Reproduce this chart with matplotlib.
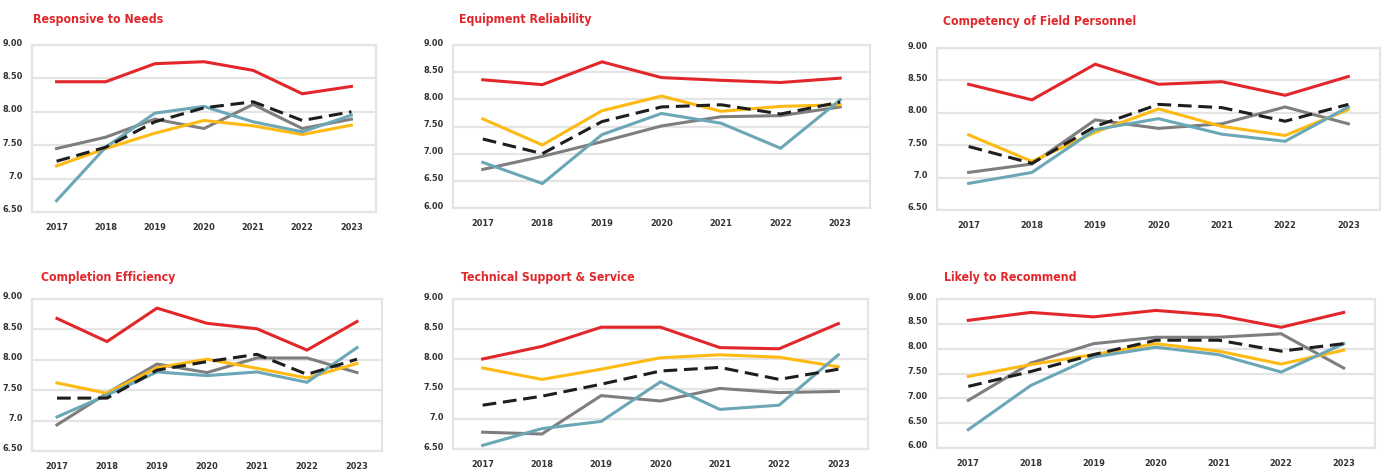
import matplotlib

matplotlib.use("Agg")
import matplotlib.pyplot as plt
import matplotlib.transforms as mtransforms
from matplotlib import font_manager

# years on the x axis, shared by all six panels
YEARS = ["2017", "2018", "2019", "2020", "2021", "2022", "2023"]

TITLES = [
    "Responsive to Needs",
    "Equipment Reliability",
    "Competency of Field Personnel",
    "Completion Efficiency",
    "Technical Support & Service",
    "Likely to Recommend",
]

# one list per panel
RED = [
    [8.45, 8.45, 8.72, 8.75, 8.62, 8.27, 8.38],
    [8.36, 8.27, 8.69, 8.40, 8.35, 8.31, 8.39],
    [8.44, 8.20, 8.75, 8.44, 8.48, 8.27, 8.56],
    [8.68, 8.30, 8.85, 8.60, 8.51, 8.16, 8.63],
    [8.00, 8.21, 8.53, 8.53, 8.19, 8.17, 8.59],
    [8.57, 8.73, 8.64, 8.77, 8.67, 8.43, 8.73],
]
YELLOW = [
    [7.19, 7.45, 7.68, 7.87, 7.79, 7.66, 7.80],
    [7.64, 7.16, 7.79, 8.06, 7.78, 7.87, 7.90],
    [7.66, 7.25, 7.70, 8.06, 7.79, 7.65, 8.05],
    [7.62, 7.45, 7.87, 8.01, 7.86, 7.70, 7.94],
    [7.85, 7.66, 7.83, 8.02, 8.07, 8.03, 7.87],
    [7.44, 7.68, 7.88, 8.10, 7.95, 7.69, 7.97],
]
TEAL = [
    [6.67, 7.47, 7.98, 8.08, 7.85, 7.70, 7.95],
    [6.84, 6.45, 7.35, 7.74, 7.56, 7.10, 7.99],
    [6.91, 7.08, 7.74, 7.91, 7.67, 7.56, 8.09],
    [7.06, 7.42, 7.80, 7.74, 7.80, 7.63, 8.20],
    [6.56, 6.84, 6.96, 7.62, 7.16, 7.23, 8.07],
    [6.37, 7.26, 7.83, 8.03, 7.88, 7.53, 8.10],
]
GRAY = [
    [7.45, 7.62, 7.89, 7.75, 8.11, 7.75, 7.89],
    [6.71, 6.95, 7.22, 7.51, 7.68, 7.70, 7.86],
    [7.08, 7.21, 7.89, 7.76, 7.83, 8.09, 7.83],
    [6.93, 7.45, 7.93, 7.79, 8.03, 8.03, 7.79],
    [6.78, 6.75, 7.39, 7.30, 7.51, 7.44, 7.46],
    [6.96, 7.71, 8.10, 8.23, 8.23, 8.30, 7.61],
]
DASHED = [
    [7.26, 7.47, 7.85, 8.06, 8.15, 7.87, 8.00],
    [7.27, 7.00, 7.59, 7.86, 7.90, 7.73, 7.95],
    [7.48, 7.22, 7.79, 8.13, 8.08, 7.87, 8.13],
    [7.37, 7.37, 7.83, 7.97, 8.09, 7.76, 8.01],
    [7.23, 7.38, 7.58, 7.80, 7.86, 7.66, 7.83],
    [7.24, 7.54, 7.88, 8.17, 8.17, 7.95, 8.10],
]

YTICKS_A = [6.5, 7.0, 7.5, 8.0, 8.5, 9.0]
YLABELS_A = ["6.50", "7.0", "7.50", "8.00", "8.50", "9.00"]
YTICKS_B = [6.0, 6.5, 7.0, 7.5, 8.0, 8.5, 9.0]
YLABELS_B = ["6.00", "6.50", "7.00", "7.50", "8.00", "8.50", "9.00"]

# pixel boxes (left, top, right, bottom) of each plot area and title anchors
W, H = 1381, 475
BOXES = [
    (32, 45, 376, 212),
    (453, 45, 870, 208),
    (937, 48, 1380, 210),
    (32, 299, 382, 451),
    (453, 299, 868, 449),
    (937, 299, 1375, 448),
]
TITLE_XY = [(33, 20), (459, 20), (943, 22), (41, 278), (461, 278), (944, 278)]

# prefer a condensed bold face, like the original's headline font
fonts = font_manager.fontManager.ttflist
names = {f.name for f in fonts}
FONT, STRETCH, NARROW = "Roboto", "normal", False
if "Liberation Sans Narrow" in names:
    FONT, STRETCH, NARROW = "Liberation Sans Narrow", "normal", True
elif "DejaVu Sans Condensed" in names:
    FONT, STRETCH, NARROW = "DejaVu Sans Condensed", "normal", True
elif any(f.name == "DejaVu Sans" and f.stretch == "condensed" for f in fonts):
    FONT, STRETCH, NARROW = "DejaVu Sans", "condensed", True
elif "Roboto" not in names:
    FONT = "DejaVu Sans"

C_RED = "#E2272B"
C_YEL = "#FDBA12"
C_TEAL = "#6BA7B6"
C_GRAY = "#7E7E7E"
C_BLK = "#1E1E1E"
C_GRID = "#E4E4E4"
C_TXT = "#333333"

fig = plt.figure(figsize=(W / 100, H / 100), dpi=100)
tick_fs = 6.6 if NARROW else 6.2
title_fs = 8.8 if NARROW else 9.8

for i in range(6):
    l, t, r, b = BOXES[i]
    ax = fig.add_axes([l / W, 1 - b / H, (r - l) / W, (b - t) / H])
    x = list(range(len(YEARS)))
    ax.plot(x, GRAY[i], color=C_GRAY, lw=2.2, solid_joinstyle="miter", zorder=3)
    ax.plot(x, YELLOW[i], color=C_YEL, lw=2.2, solid_joinstyle="miter", zorder=3)
    ax.plot(x, TEAL[i], color=C_TEAL, lw=2.2, solid_joinstyle="miter", zorder=3)
    ax.plot(x, RED[i], color=C_RED, lw=2.2, solid_joinstyle="miter", zorder=4)
    ax.plot(x, DASHED[i], color=C_BLK, lw=2.2, dashes=(4.5, 2.2), zorder=5)

    if i in (1, 5):
        ticks, labels = YTICKS_B, YLABELS_B
    else:
        ticks, labels = YTICKS_A, YLABELS_A
    ax.set_ylim(ticks[0], ticks[-1])
    ax.set_yticks(ticks)
    ax.set_yticklabels(labels)
    ax.set_xlim(-0.5, 6.5)
    ax.set_xticks(x)
    ax.set_xticklabels(YEARS)

    ax.grid(axis="y", color=C_GRID, lw=1.6, zorder=1)
    ax.set_axisbelow(True)
    for sp in ax.spines.values():
        sp.set_color(C_GRID)
        sp.set_linewidth(1.6)
    ax.tick_params(length=0, colors=C_TXT, labelsize=tick_fs)
    ax.tick_params(axis="y", pad=6.5)
    ax.tick_params(axis="x", pad=8)
    for lab in ax.get_xticklabels() + ax.get_yticklabels():
        lab.set_fontfamily(FONT)
        lab.set_fontstretch(STRETCH)
        lab.set_fontweight("bold")
    shift = mtransforms.ScaledTranslation(0, 3 / 100, fig.dpi_scale_trans)
    for lab in ax.get_yticklabels():
        lab.set_transform(lab.get_transform() + shift)

    tx, ty = TITLE_XY[i]
    fig.text(tx / W, 1 - ty / H, TITLES[i], color=C_RED, fontsize=title_fs,
             fontweight="bold", family=FONT, fontstretch=STRETCH,
             ha="left", va="center")

fig.savefig("out.png", dpi=100)
